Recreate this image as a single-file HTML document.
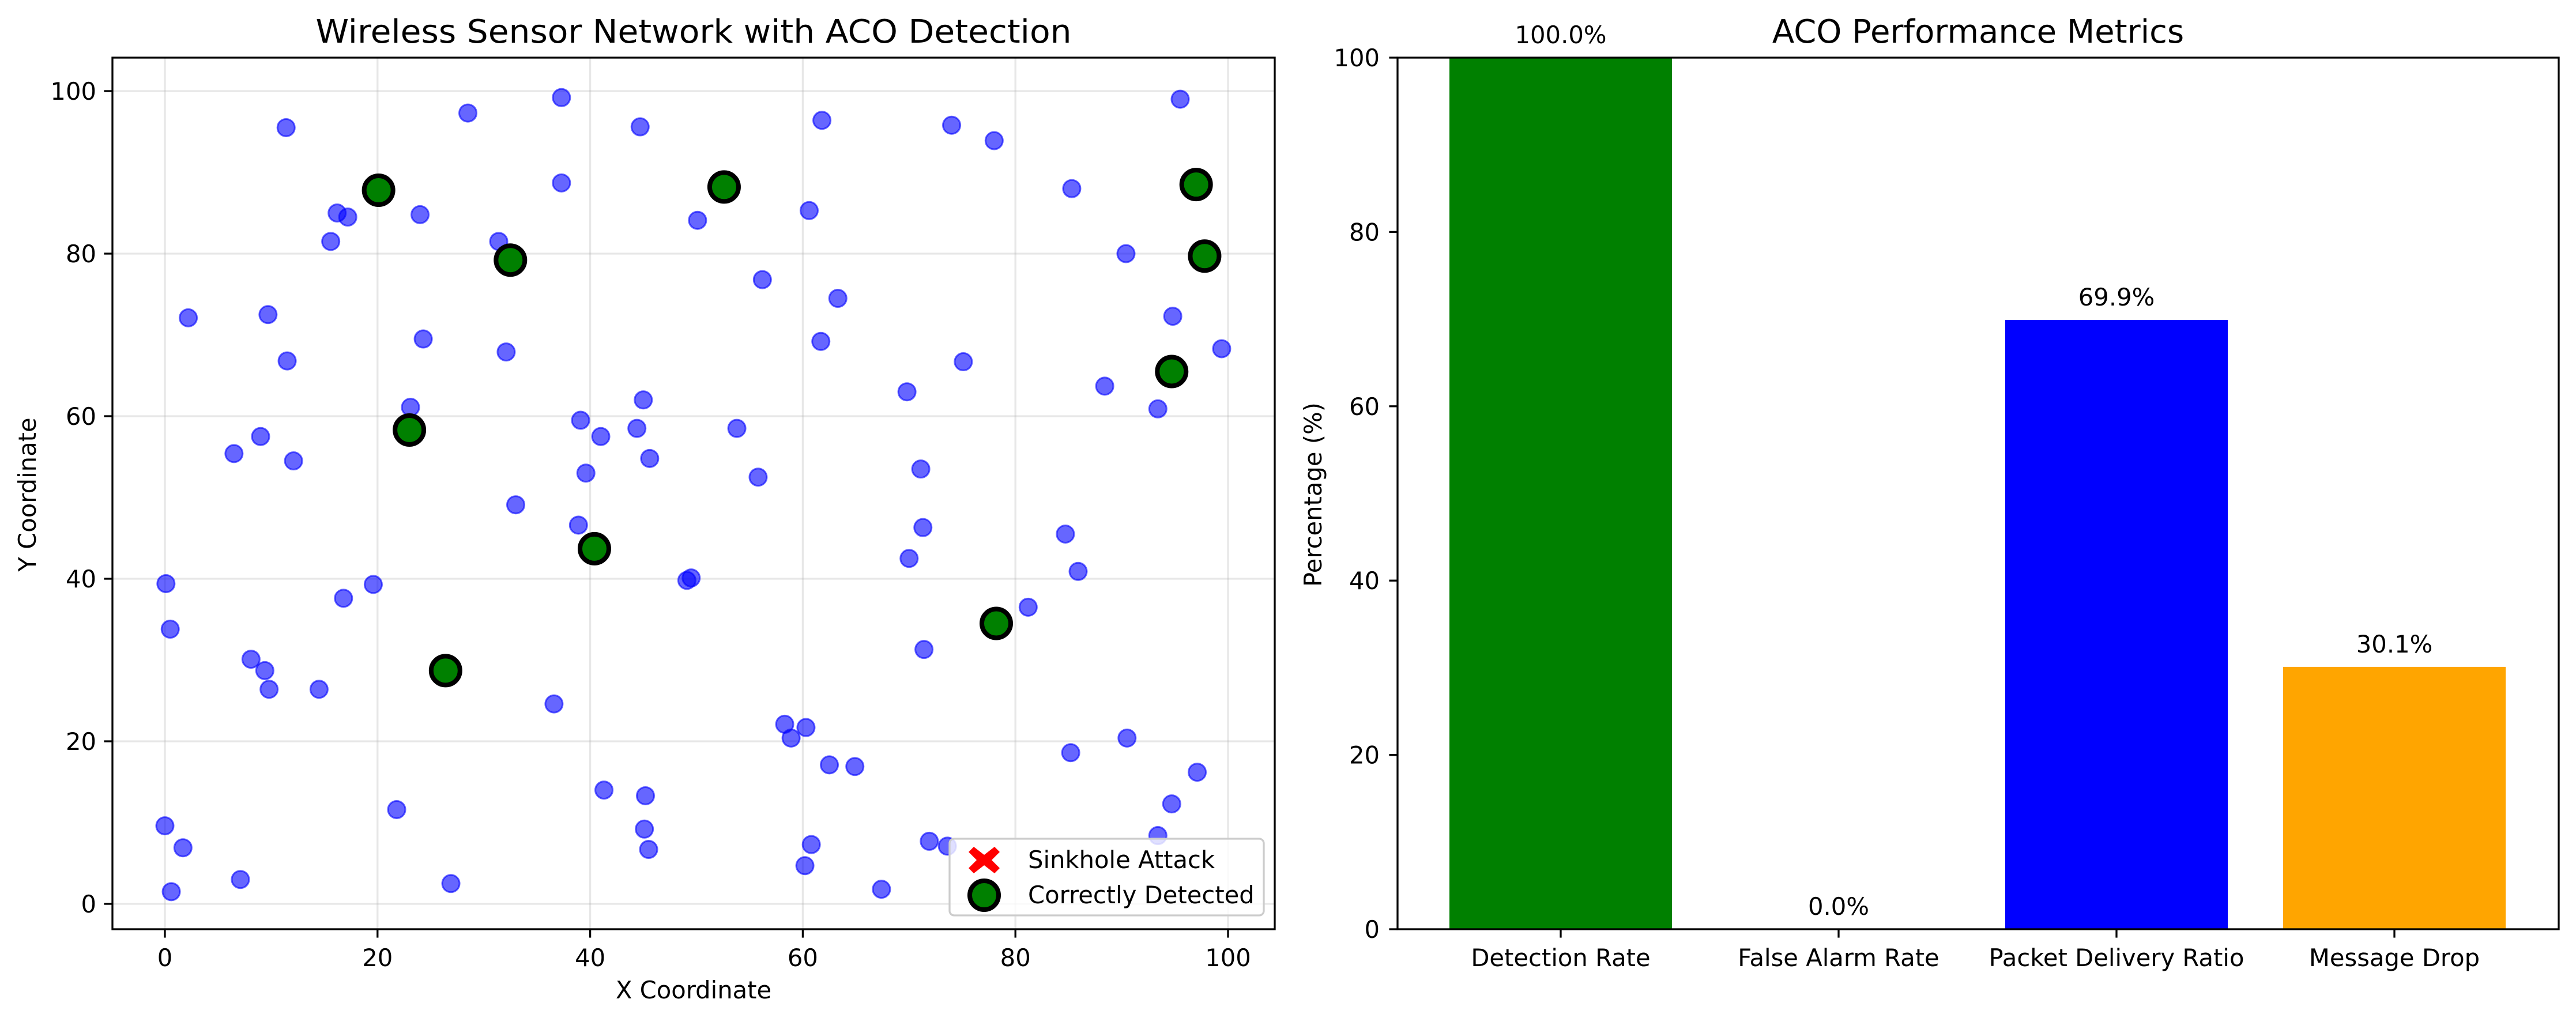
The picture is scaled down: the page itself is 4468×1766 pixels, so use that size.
<!DOCTYPE html>
<html><head><meta charset="utf-8"><style>html,body{margin:0;padding:0;background:#fff}svg{display:block}text{font-family:"DejaVu Sans","Liberation Sans",sans-serif;fill:#000}</style></head>
<body>
<svg id="fig" width="4468" height="1766" viewBox="0 0 4468 1766" xmlns="http://www.w3.org/2000/svg">
<rect width="4468" height="1766" fill="#fff"/>
<g id="left"></g>
<g id="right"></g>
</svg>
<script>
const nodeX=[11.4,28.5,37.3,44.7,61.8,74.0,78.0,95.5,37.3,85.3,16.2,17.2,24.0,60.6,50.1,15.6,31.4,90.4,56.2,63.3,2.2,9.7,94.8,24.3,11.5,32.1,61.7,75.1,99.4,88.4,69.8,45.0,23.1,93.4,39.1,9.0,6.5,41.0,44.4,53.8,12.1,45.6,39.6,55.8,71.1,33.0,38.9,71.3,84.7,70.0,85.9,49.1,49.5,0.1,19.6,16.8,81.2,0.5,71.4,8.1,9.4,9.8,14.5,36.6,58.3,60.3,58.9,90.5,85.2,62.5,64.9,97.1,41.3,45.2,21.8,94.7,45.1,0.0,1.7,45.5,60.8,71.9,73.6,93.4,60.2,7.1,26.9,0.6,67.4];
const nodeY=[95.5,97.3,99.2,95.6,96.4,95.8,93.9,99.0,88.7,88.0,85.0,84.5,84.8,85.3,84.1,81.5,81.5,80.0,76.8,74.5,72.1,72.5,72.3,69.5,66.8,67.9,69.2,66.7,68.3,63.7,63.0,62.0,61.1,60.9,59.5,57.5,55.4,57.5,58.5,58.5,54.5,54.8,53.0,52.5,53.5,49.1,46.6,46.3,45.5,42.5,40.9,39.8,40.1,39.4,39.3,37.6,36.5,33.8,31.3,30.1,28.7,26.4,26.4,24.6,22.1,21.7,20.4,20.4,18.6,17.1,16.9,16.2,14.0,13.3,11.6,12.3,9.2,9.6,6.9,6.7,7.3,7.7,7.1,8.4,4.7,3.0,2.5,1.5,1.8];
const detX=[20.1,52.6,97.0,97.8,32.5,94.7,23.0,40.4,78.2,26.4];
const detY=[87.8,88.2,88.5,79.7,79.2,65.5,58.3,43.7,34.5,28.7];
const xTicks=[0,20,40,60,80,100];
const yTicks=[0,20,40,60,80,100];
const barCats=["Detection Rate","False Alarm Rate","Packet Delivery Ratio","Message Drop"];
const barVals=[100.0,0.0,69.9,30.1];
const barColors=["#008000","#ff0000","#0000ff","#ffa500"];
const barTicks=[0,20,40,60,80,100];

const NS="http://www.w3.org/2000/svg";
function mk(tag,attrs,parent,txt){const e=document.createElementNS(NS,tag);for(const k in attrs)e.setAttribute(k,attrs[k]);if(txt!==undefined)e.textContent=txt;parent.appendChild(e);return e;}
const L=document.getElementById('left'),R=document.getElementById('right');

// left axes
const lx0=195,lx1=2211,ly0=100,ly1=1612;
const sx=v=>286+(v-0)*18.44;
const sy=v=>1568-v*14.1;
xTicks.forEach(t=>{const g=mk('line',{x1:sx(t),x2:sx(t),y1:ly0,y2:ly1,stroke:'#b0b0b0','stroke-opacity':0.3,'stroke-width':3.3},L);
});
yTicks.forEach(t=>{const g=mk('line',{x1:lx0,x2:lx1,y1:sy(t),y2:sy(t),stroke:'#b0b0b0','stroke-opacity':0.3,'stroke-width':3.3},L);
});
nodeX.forEach((x,i)=>{const c=mk('circle',{cx:sx(x),cy:sy(nodeY[i]),r:15,fill:'#0000ff','fill-opacity':0.6,stroke:'#0000ff','stroke-opacity':0.6,'stroke-width':3},L);
});
detX.forEach((x,i)=>{const c=mk('circle',{cx:sx(x),cy:sy(detY[i]),r:25,fill:'#008000',stroke:'#000','stroke-width':8},L);
});
const lf=mk('rect',{x:lx0,y:ly0,width:lx1-lx0,height:ly1-ly0,fill:'none',stroke:'#000','stroke-width':3.3},L);

xTicks.forEach(t=>{mk('line',{x1:sx(t),x2:sx(t),y1:ly1,y2:ly1+14.6,stroke:'#000','stroke-width':3.3},L);
const tx=mk('text',{x:sx(t),y:1676,'font-size':41.7,'text-anchor':'middle'},L,String(t));
});
yTicks.forEach(t=>{mk('line',{x1:lx0-14.6,x2:lx0,y1:sy(t),y2:sy(t),stroke:'#000','stroke-width':3.3},L);
const tx=mk('text',{x:167,y:sy(t)+15,'font-size':41.7,'text-anchor':'end'},L,String(t));
});
let t1=mk('text',{x:1203,y:74,'font-size':56,'text-anchor':'middle',textLength:1311,lengthAdjust:'spacingAndGlyphs'},L,'Wireless Sensor Network with ACO Detection');

let xl=mk('text',{x:1203,y:1732,'font-size':41.7,'text-anchor':'middle'},L,'X Coordinate');

let yl=mk('text',{x:0,y:0,'font-size':41.7,'text-anchor':'middle',transform:'translate(62,858) rotate(-90)'},L,'Y Coordinate');

// legend
const lg=mk('g',{},L);
mk('rect',{x:1647,y:1455,width:545,height:133,rx:8,fill:'#fff','fill-opacity':0.8,stroke:'#cccccc','stroke-width':3.3},lg);
const rx=mk('path',{d:'M1707 1492 m-18 -23 l18 14 l18 -14 l9 9 l-14 14 l14 14 l-9 9 l-18 -14 l-18 14 l-9 -9 l14 -14 l-14 -14 z',fill:'#ff0000'},lg);

const gc=mk('circle',{cx:1707,cy:1553,r:25,fill:'#008000',stroke:'#000','stroke-width':8},lg);

let le1=mk('text',{x:1783,y:1506,'font-size':41.7},lg,'Sinkhole Attack');
let le2=mk('text',{x:1783,y:1567,'font-size':41.7},lg,'Correctly Detected');

// right axes
const rx0=2424,rx1=4438,ry0=100,ry1=1612;
const bx=i=>2707+i*482;
const by=v=>ry1-v/100*(ry1-ry0);
barVals.forEach((v,i)=>{const b=mk('rect',{x:bx(i)-193,y:by(v),width:386,height:ry1-by(v),fill:barColors[i]},R);

const t=mk('text',{x:bx(i),y:by(v)-25,'font-size':41.7,'text-anchor':'middle'},R,v.toFixed(1)+'%');

mk('line',{x1:bx(i),x2:bx(i),y1:ry1,y2:ry1+14.6,stroke:'#000','stroke-width':3.3},R);
const c=mk('text',{x:bx(i),y:1676,'font-size':41.7,'text-anchor':'middle'},R,barCats[i]);
});
const rf=mk('rect',{x:rx0,y:ry0,width:rx1-rx0,height:ry1-ry0,fill:'none',stroke:'#000','stroke-width':3.3},R);

barTicks.forEach(t=>{mk('line',{x1:rx0-14.6,x2:rx0,y1:by(t),y2:by(t),stroke:'#000','stroke-width':3.3},R);
const tx=mk('text',{x:2393,y:by(t)+15,'font-size':41.7,'text-anchor':'end'},R,String(t));
});
let t2=mk('text',{x:3431,y:74,'font-size':56,'text-anchor':'middle'},R,'ACO Performance Metrics');

let yl2=mk('text',{x:0,y:0,'font-size':41.7,'text-anchor':'middle',transform:'translate(2292,858) rotate(-90)'},R,'Percentage (%)');

</script>
</body></html>
